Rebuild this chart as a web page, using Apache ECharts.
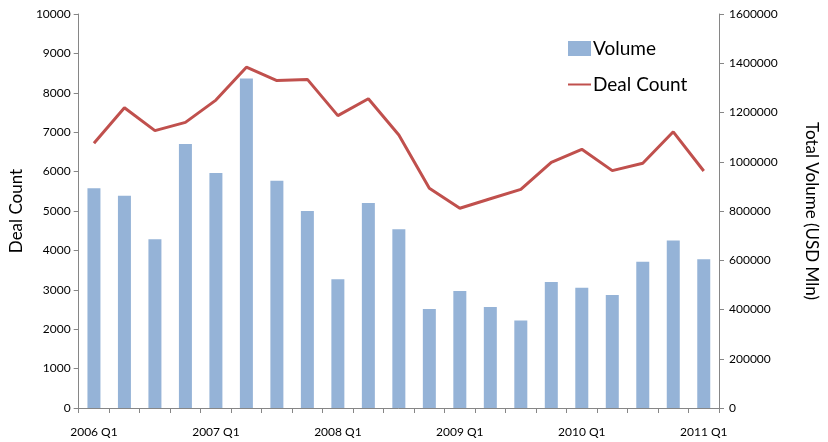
<!DOCTYPE html>
<html>
<head>
<meta charset="utf-8">
<script src="https://cdn.jsdelivr.net/npm/echarts@6/dist/echarts.min.js"></script>
<style>
html,body{margin:0;padding:0;background:#fff;}
#chart{width:828px;height:442px;}
</style>
</head>
<body>
<div id="chart"></div>
<script>
var quarters = ['2006 Q1','2006 Q2','2006 Q3','2006 Q4','2007 Q1','2007 Q2','2007 Q3','2007 Q4',
    '2008 Q1','2008 Q2','2008 Q3','2008 Q4','2009 Q1','2009 Q2','2009 Q3','2009 Q4',
    '2010 Q1','2010 Q2','2010 Q3','2010 Q4','2011 Q1'];
/*交易量 (USD Mln)*/
var volume = [892000, 862000, 685000, 1072000, 954000, 1338000, 923000, 800000,
    523000, 832000, 726000, 402000, 475000, 410000, 355000, 512000,
    488000, 459000, 594000, 680000, 604000];
/*交易数*/
var dealCount = [6720, 7620, 7040, 7250, 7815, 8650, 8310, 8340,
    7420, 7850, 6930, 5575, 5070, 5310, 5550, 6235,
    6565, 6025, 6210, 7010, 6015];

var axisColor = '#868686';
var fontFam = 'Lato, "Liberation Sans", sans-serif';
var plainNum = function (v) { return String(v); };

var myChart = echarts.init(document.getElementById('chart'));
var option = {
    animation: false,
    textStyle: {fontFamily: fontFam},
    grid: {left: 73, right: 103, top: 14, bottom: 34, containLabel: false},
    legend: {
        orient: 'vertical',
        left: 562,
        top: 34,
        itemGap: 17,
        itemWidth: 23,
        itemHeight: 15,
        textStyle: {fontSize: 19, color: '#000', fontFamily: fontFam, padding: [0, 0, 0, -3]},
        data: [
            {name: 'Volume', icon: 'rect'},
            {name: 'Deal Count', itemStyle: {color: 'transparent', borderWidth: 0, opacity: 0}}
        ]
    },
    xAxis: {
        type: 'category',
        data: quarters,
        boundaryGap: true,
        axisLine: {lineStyle: {color: axisColor}},
        axisTick: {show: true, interval: 0, length: 5, lineStyle: {color: axisColor}},
        axisLabel: {interval: 3, margin: 18, fontSize: 12, color: '#000'},
        splitLine: {show: false}
    },
    yAxis: [
        {
            type: 'value',
            name: 'Deal Count',
            nameLocation: 'middle',
            nameGap: 50,
            nameTextStyle: {fontSize: 17, color: '#000'},
            min: 0, max: 10000, interval: 1000,
            axisLine: {show: true, lineStyle: {color: axisColor}},
            axisTick: {show: true, length: 5, lineStyle: {color: axisColor}},
            axisLabel: {fontSize: 12, color: '#000', margin: 8, formatter: plainNum},
            splitLine: {show: false}
        },
        {
            type: 'value',
            name: 'Total Volume (USD Mln)',
            nameLocation: 'middle',
            nameRotate: -90,
            nameGap: 84,
            nameTextStyle: {fontSize: 17, color: '#000'},
            min: 0, max: 1600000, interval: 200000,
            axisLine: {show: true, lineStyle: {color: axisColor}},
            axisTick: {show: true, length: 5, lineStyle: {color: axisColor}},
            axisLabel: {fontSize: 12, color: '#000', margin: 10, formatter: plainNum},
            splitLine: {show: false}
        }
    ],
    series: [
        {
            name: 'Volume',
            type: 'bar',
            yAxisIndex: 1,
            barWidth: 13,
            itemStyle: {color: '#95B3D7'},
            data: volume
        },
        {
            name: 'Deal Count',
            type: 'line',
            yAxisIndex: 0,
            symbol: 'none',
            lineStyle: {color: '#C0504D', width: 3},
            itemStyle: {color: '#C0504D'},
            data: dealCount
        }
    ]
};
myChart.setOption(option, true);
</script>
</body>
</html>
